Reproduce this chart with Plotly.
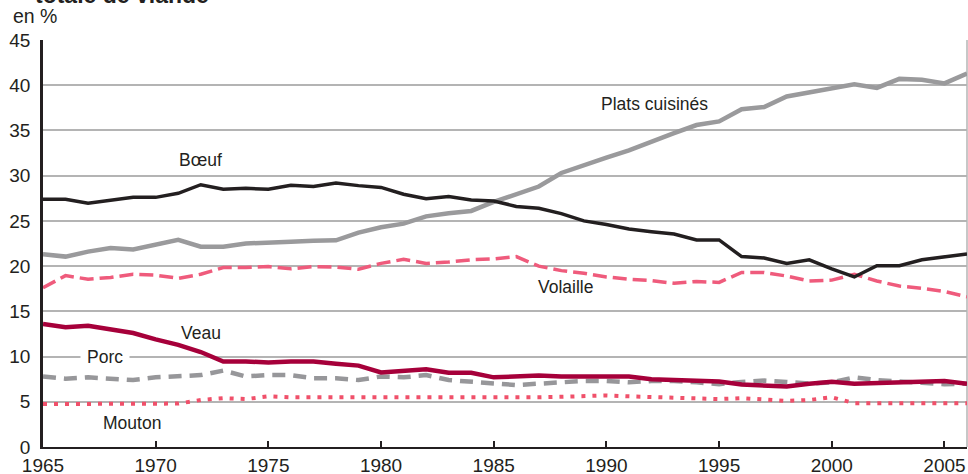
import plotly.graph_objects as go

# Part of each meat type in total meat consumption (%), 1965-2006
years = list(range(1965, 2007))

plats_cuisines = [21.3, 21.05, 21.6, 22.0, 21.85, 22.4, 22.9, 22.15, 22.15, 22.5,
                  22.65, 22.7, 22.8, 22.85, 23.7, 24.3, 24.7, 25.5, 25.85, 26.1,
                  27.1, 27.9, 28.8, 30.3, 31.2, 32.0, 32.8, 33.8, 34.7, 35.6,
                  36.0, 37.35, 37.6, 38.75, 39.2, 39.55, 40.1, 39.7, 40.7, 40.6,
                  40.2, 41.3]
boeuf = [27.4, 27.4, 26.95, 27.25, 27.6, 27.6, 28.05, 29.0, 28.5, 28.6,
         28.5, 28.95, 28.8, 29.2, 28.9, 28.7, 27.95, 27.45, 27.7, 27.3,
         27.2, 26.6, 26.4, 25.8, 25.0, 24.6, 24.1, 23.8, 23.55, 22.9,
         22.9, 21.05, 20.9, 20.3, 20.7, 19.7, 18.8, 20.05, 20.05, 20.7,
         21.0, 21.35]
volaille = [17.6, 18.95, 18.55, 18.75, 19.1, 19.0, 18.65, 19.1, 19.85, 19.85,
            19.95, 19.7, 19.95, 19.9, 19.65, 20.3, 20.75, 20.3, 20.45, 20.7,
            20.8, 21.05, 20.0, 19.5, 19.2, 18.8, 18.55, 18.4, 18.1, 18.3,
            18.2, 19.3, 19.3, 18.9, 18.35, 18.45, 19.1, 18.35, 17.8, 17.55,
            17.2, 16.6]
veau = [13.6, 13.25, 13.4, 13.0, 12.6, 11.9, 11.3, 10.5, 9.45, 9.45,
        9.35, 9.45, 9.45, 9.2, 9.0, 8.25, 8.45, 8.6, 8.2, 8.2,
        7.7, 7.8, 7.9, 7.8, 7.8, 7.8, 7.8, 7.5, 7.4, 7.3,
        7.25, 6.9, 6.85, 6.7, 7.0, 7.2, 7.0, 7.1, 7.1, 7.2,
        7.3, 7.0]
porc = [7.8, 7.55, 7.7, 7.6, 7.4, 7.7, 7.8, 7.95, 8.45, 7.8,
        7.95, 7.95, 7.6, 7.6, 7.4, 7.8, 7.7, 7.95, 7.4, 7.2,
        7.1, 6.85, 7.0, 7.15, 7.3, 7.3, 7.15, 7.3, 7.3, 7.15,
        6.95, 7.2, 7.35, 7.2, 7.0, 7.15, 7.7, 7.4, 7.2, 7.1,
        6.95, 7.0]
mouton = [4.75, 4.75, 4.8, 4.8, 4.75, 4.8, 4.8, 5.2, 5.4, 5.3,
          5.6, 5.5, 5.5, 5.45, 5.4, 5.4, 5.4, 5.4, 5.4, 5.4,
          5.4, 5.4, 5.5, 5.55, 5.65, 5.7, 5.6, 5.5, 5.5, 5.35,
          5.3, 5.4, 5.2, 5.1, 5.2, 5.5, 4.85, 4.85, 4.85, 4.85,
          4.85, 4.85]

x_ticks = [1965, 1970, 1975, 1980, 1985, 1990, 1995, 2000, 2005]
y_ticks = [0, 5, 10, 15, 20, 25, 30, 35, 40, 45]

labels = ["Plats cuisinés", "Bœuf", "Volaille", "Veau", "Porc", "Mouton"]
label_x = [1992.15, 1971.97, 1988.2, 1972.0, 1967.75, 1968.97]
label_y = [37.95, 31.75, 17.7, 12.6, 10.0, 2.6]

FONT = "Liberation Sans, Arial, Helvetica, sans-serif"
TXT = "#231f20"
GRID = "#b4b4b4"

series = [
    (plats_cuisines, dict(color="#9a9a9c", width=4.5)),
    (volaille, dict(color="#ef5b7c", width=3.5, dash="14px,6px")),
    (porc, dict(color="#97979a", width=4.5, dash="13px,8px")),
    (mouton, dict(color="#f0506a", width=4, dash="4px,7px")),
    (veau, dict(color="#a6003a", width=4.5)),
    (boeuf, dict(color="#231f20", width=3.5)),
]

fig = go.Figure()
for values, line in series:
    fig.add_trace(go.Scatter(x=years, y=values, mode="lines", line=line,
                             showlegend=False, hoverinfo="skip"))

for text, lx, ly in zip(labels, label_x, label_y):
    fig.add_annotation(
        x=lx, y=ly, text=text, showarrow=False,
        font=dict(family=FONT, size=17.5, color=TXT),
        bgcolor="white" if text == "Porc" else "rgba(0,0,0,0)",
        borderpad=6 if text == "Porc" else 0,
    )

# cropped title + unit (paper coords: plot area is 924 x 407 px)
fig.add_annotation(x=-0.0108, y=1.074, xref="paper", yref="paper",
                   text="<b>totale de viande</b>", showarrow=False,
                   xanchor="left", yanchor="bottom",
                   font=dict(family=FONT, size=23, color=TXT))
fig.add_annotation(x=-0.035, y=1.028, xref="paper", yref="paper", text="en %",
                   showarrow=False, xanchor="left", yanchor="bottom",
                   font=dict(family=FONT, size=19.5, color=TXT))

# right border line
fig.add_shape(type="line", xref="paper", yref="y", x0=1, x1=1, y0=0, y1=45,
              line=dict(color=GRID, width=1.5), layer="below")

fig.update_xaxes(
    range=[1965, 2006], tickvals=x_ticks, showgrid=False, zeroline=False,
    showline=True, linecolor=TXT, linewidth=2, automargin=False,
    ticks="inside", ticklen=6, tickwidth=1.5, tickcolor=TXT,
    tickfont=dict(family=FONT, size=19, color=TXT),
)
fig.update_yaxes(
    range=[0, 45], tickvals=y_ticks, showgrid=True, gridcolor=GRID, gridwidth=1.5,
    zeroline=False, showline=True, linecolor=TXT, linewidth=2.5, automargin=False,
    ticks="", ticklabelstandoff=6,
    tickfont=dict(family=FONT, size=19, color=TXT),
)

fig.update_layout(
    width=968, height=474,
    margin=dict(l=43, r=1, t=40, b=27),
    plot_bgcolor="white", paper_bgcolor="white",
    font=dict(family=FONT, color=TXT),
)

# drop the default page margin so the figure fills the window
fig.write_html("out.html", config={"displayModeBar": False},
               post_script="document.body.style.margin='0';")
